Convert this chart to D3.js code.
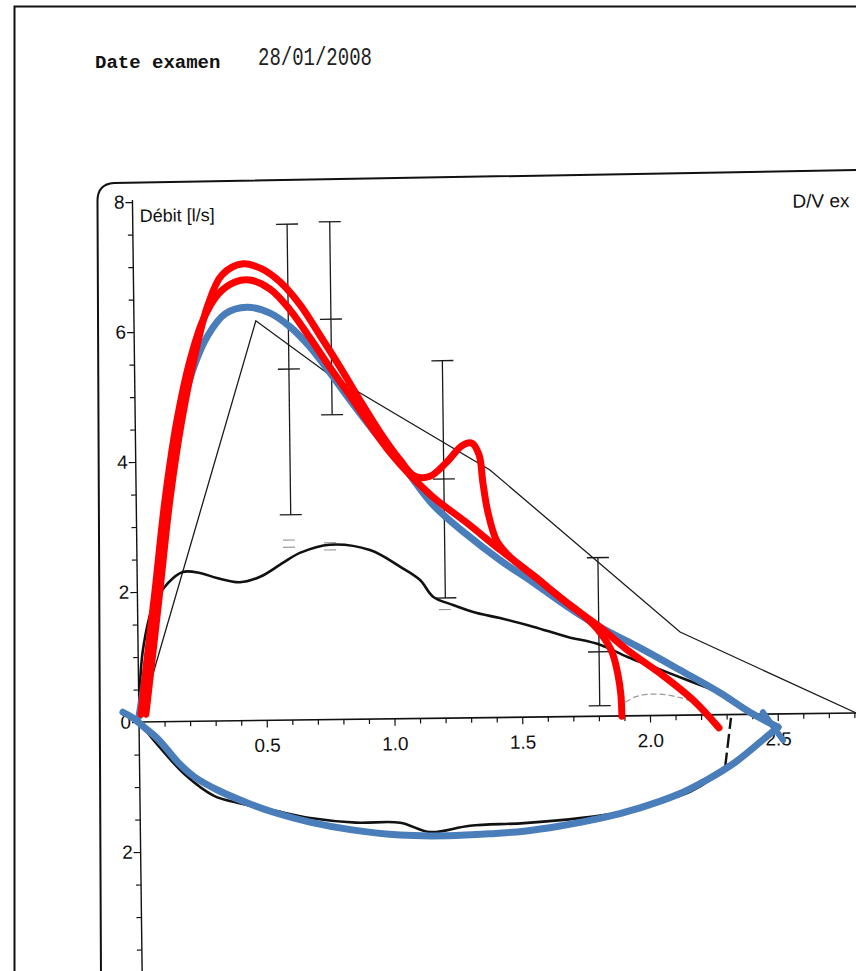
<!DOCTYPE html>
<html>
<head>
<meta charset="utf-8">
<script src="https://cdn.jsdelivr.net/npm/d3@7"></script>
<style>
  html, body { margin: 0; padding: 0; background: #fff; }
  svg { display: block; }
  .sans { font-family: "Liberation Sans Narrow", "Liberation Sans", Arial, sans-serif; font-stretch: condensed; fill: #111; }
  .tick text { font-family: "Liberation Sans Narrow", "Liberation Sans", Arial, sans-serif; font-stretch: condensed; fill: #111; }
</style>
</head>
<body>
<svg id="chart" width="856" height="971"></svg>
<script>
// ---------- flow-volume data: volume in litres, flow in l/s ----------
const xLabelValues = [0.5, 1.0, 1.5, 2.0, 2.5];
const yLabelValues = [8, 6, 4, 2, 0, -2];

// predicted expiratory curve (thin polyline)
const predictedVolume = [0, 0.477, 0.764, 1.386, 2.122, 2.807];
const predictedFlow   = [0, 6.15, 5.30, 3.81, 1.28, 0];

// reference ranges at the predicted parameters
const errVolume = [0.604, 0.771, 1.205, 1.804];
const errLow    = [3.16, 4.69, 1.85, 0.16];
const errMid    = [5.40, 6.16, 3.68, 0.99];
const errHigh   = [7.63, 7.66, 5.50, 2.44];

// measured expiratory curve
const measVolume = [0, 0.003, 0.019, 0.060, 0.120, 0.179, 0.246, 0.312, 0.402, 0.481, 0.571, 0.638,
                    0.756, 0.912, 1.029, 1.107, 1.157, 1.235, 1.328, 1.418, 1.547, 1.679, 1.808, 1.913,
                    2.014, 2.147, 2.248, 2.326, 2.380, 2.400];
const measFlow   = [0, 0.40, 1.11, 1.77, 2.13, 2.30, 2.28, 2.20, 2.13, 2.21, 2.42, 2.57,
                    2.69, 2.60, 2.34, 2.13, 1.87, 1.74, 1.61, 1.53, 1.39, 1.23, 1.10, 0.91,
                    0.75, 0.54, 0.38, 0.23, 0.07, 0];

// measured inspiratory curve
const inspVolume = [0, 0.081, 0.178, 0.290, 0.380, 0.516, 0.665, 0.844, 1.017, 1.134, 1.290, 1.502,
                    1.729, 1.878, 2.027, 2.153, 2.240, 2.292];
const inspFlow   = [0, -0.40, -0.82, -1.15, -1.26, -1.38, -1.51, -1.59, -1.60, -1.75, -1.66, -1.63,
                    -1.56, -1.48, -1.34, -1.18, -0.98, -0.80];
const inspEndVolume = [2.292, 2.317];
const inspEndFlow   = [-0.80, -0.05];

// faint trace of an earlier manoeuvre
const traceVolume = [1.875, 1.943, 2.029, 2.119, 2.196];
const traceFlow   = [0.13, 0.29, 0.33, 0.27, 0.16];

// small measured-value markers on the reference bars
const markVolume = [0.596, 0.596, 0.756, 0.756, 1.203];
const markFlow   = [2.77, 2.66, 2.72, 2.61, 1.67];

// red sketched curves
const red1Volume = [0.027, 0.051, 0.082, 0.121, 0.168, 0.219, 0.270, 0.325, 0.407, 0.481, 0.552, 0.630,
                    0.708, 0.787, 0.865, 0.943, 1.022, 1.080, 1.139, 1.205, 1.264, 1.303, 1.331, 1.346,
                    1.366, 1.401, 1.452, 1.550, 1.648, 1.746, 1.804, 1.851, 1.875, 1.886, 1.890];
const red1Flow   = [0.12, 0.95, 2.03, 3.42, 4.65, 5.65, 6.42, 6.88, 7.05, 6.97, 6.77, 6.42,
                    5.95, 5.46, 4.95, 4.46, 4.03, 3.78, 3.78, 4.00, 4.25, 4.29, 4.11, 3.68,
                    3.22, 2.78, 2.54, 2.23, 1.92, 1.62, 1.38, 1.08, 0.72, 0.42, 0.09];
const red2Volume = [0.008, 0.031, 0.063, 0.102, 0.149, 0.200, 0.250, 0.309, 0.376, 0.434, 0.513, 0.591,
                    0.669, 0.748, 0.826, 0.904, 0.982, 1.061, 1.151, 1.284, 1.413, 1.542, 1.675, 1.804,
                    1.910, 2.039, 2.168, 2.270];
const red2Flow   = [0.12, 0.95, 2.03, 3.42, 4.65, 5.57, 6.18, 6.58, 6.77, 6.80, 6.66, 6.34,
                    5.91, 5.45, 5.02, 4.57, 4.15, 3.80, 3.46, 3.06, 2.65, 2.26, 1.83, 1.46,
                    1.11, 0.75, 0.34, -0.09];

// blue sketched loop: expiratory limb, inspiratory limb, end stroke
const blueExpVolume = [0, 0.023, 0.043, 0.067, 0.090, 0.121, 0.160, 0.211, 0.270, 0.337, 0.423, 0.513,
                       0.591, 0.669, 0.748, 0.826, 0.924, 1.022, 1.151, 1.284, 1.413, 1.542, 1.675, 1.804,
                       1.961, 2.117, 2.274, 2.391, 2.501];
const blueExpFlow   = [0.09, 0.65, 1.26, 2.03, 2.80, 3.72, 4.65, 5.42, 5.95, 6.28, 6.38, 6.29,
                       6.08, 5.77, 5.37, 4.95, 4.45, 4.00, 3.34, 2.88, 2.49, 2.15, 1.78, 1.46,
                       1.14, 0.80, 0.45, 0.15, -0.08];
const blueInspVolume = [2.501, 2.431, 2.333, 2.227, 2.106, 1.961, 1.808, 1.648, 1.507, 1.374, 1.209, 1.022,
                        0.834, 0.669, 0.536, 0.415, 0.309, 0.219, 0.160, 0.074, 0.023, -0.023, -0.063];
const blueInspFlow   = [-0.08, -0.31, -0.62, -0.88, -1.12, -1.32, -1.48, -1.60, -1.68, -1.72, -1.75, -1.74,
                        -1.66, -1.54, -1.40, -1.23, -1.05, -0.85, -0.65, -0.26, -0.09, 0.06, 0.15];
const blueTickVolume = [2.442, 2.521];
const blueTickFlow   = [0.15, -0.28];

// ---------- layout ----------
const W = 856, H = 971;
const ox = 139, oy = 722, kx = 255.5, ky = 65;
const x = d3.scaleLinear().domain([0, 2.9]).range([ox, ox + 2.9 * kx]);
const y = d3.scaleLinear().domain([-4, 8]).range([oy + 4 * ky, oy - 8 * ky]);

const svg = d3.select("#chart");
svg.append("rect").attr("width", W).attr("height", H).attr("fill", "#fff");

// page border
svg.append("rect")
  .attr("x", 14.5).attr("y", 6.5).attr("width", 1000).attr("height", 1100)
  .attr("fill", "none").attr("stroke", "#111").attr("stroke-width", 2);

// header
svg.append("text")
  .attr("x", 95).attr("y", 68)
  .attr("font-family", "'Courier New', 'Liberation Mono', monospace")
  .attr("font-weight", "bold").attr("font-size", 19).attr("fill", "#111")
  .text("Date examen");
svg.append("text")
  .attr("transform", "translate(258,65) scale(0.76,1)")
  .attr("font-family", "'Liberation Mono', monospace")
  .attr("font-size", 25).attr("fill", "#222")
  .text("28/01/2008");

// printed chart frame with rounded corner
svg.append("path")
  .attr("d", "M101,980 L97.5,202 Q97,184 114,183 L860,170")
  .attr("fill", "none").attr("stroke", "#111").attr("stroke-width", 2);

// printed chart layer (slightly rotated like the printout)
const scan = svg.append("g").attr("transform", `rotate(-0.72,${ox},${oy})`);

const lineOf = (xs, ys, curve) =>
  d3.line().x((d, i) => x(xs[i])).y((d, i) => y(ys[i])).curve(curve)(xs);

// y axis
const yTicks = d3.range(-3.5, 8.01, 0.5);
const yAxis = d3.axisLeft(y)
  .tickValues(yTicks)
  .tickSizeInner(5).tickSizeOuter(0).tickPadding(4)
  .tickFormat(d => yLabelValues.includes(d) ? String(Math.abs(d)) : "");
const gy = scan.append("g").attr("transform", `translate(${ox},0)`).call(yAxis);
gy.select(".domain").attr("d", `M0,${y(8) - 2}V${H + 40}`).attr("stroke", "#111").attr("stroke-width", 1.4);
gy.selectAll(".tick line").attr("stroke", "#111").attr("stroke-width", 1.2)
  .attr("x2", d => yLabelValues.includes(d) ? -7 : -5);
gy.selectAll(".tick text").attr("font-size", 19).attr("x", -8);

// x axis
const xTicks = d3.range(1, 29).map(i => i / 10);
const xAxis = d3.axisBottom(x)
  .tickValues(xTicks)
  .tickSizeInner(5).tickSizeOuter(0).tickPadding(13)
  .tickFormat(d => xLabelValues.some(v => Math.abs(v - d) < 1e-9) ? d.toFixed(1) : "");
const gx = scan.append("g").attr("transform", `translate(0,${oy})`).call(xAxis);
gx.select(".domain").attr("d", `M${ox},0H${W + 60}`).attr("stroke", "#111").attr("stroke-width", 1.6);
gx.selectAll(".tick line").attr("stroke", "#111").attr("stroke-width", 1.2)
  .attr("y2", d => xLabelValues.some(v => Math.abs(v - d) < 1e-9) ? 7 : 5);
gx.selectAll(".tick text").attr("font-size", 19);

// axis titles
scan.append("text").attr("class", "sans").attr("x", 146).attr("y", 222).attr("font-size", 18).text("Débit [l/s]");
scan.append("text").attr("class", "sans").attr("x", 799).attr("y", 216).attr("font-size", 19).text("D/V ex");

// predicted curve
scan.append("path")
  .attr("d", lineOf(predictedVolume, predictedFlow, d3.curveLinear))
  .attr("fill", "none").attr("stroke", "#1a1a1a").attr("stroke-width", 1.3);

// reference bars
const capW = 11;
const bars = scan.append("g").attr("stroke", "#1a1a1a").attr("stroke-width", 1.3);
errVolume.forEach((v, i) => {
  const cx = x(v);
  bars.append("line").attr("x1", cx).attr("x2", cx).attr("y1", y(errHigh[i])).attr("y2", y(errLow[i]));
  [errHigh[i], errMid[i], errLow[i]].forEach(f => {
    bars.append("line").attr("x1", cx - capW).attr("x2", cx + capW).attr("y1", y(f)).attr("y2", y(f));
  });
});

// measured markers
const marks = scan.append("g").attr("stroke", "#9a9a9a").attr("stroke-width", 1.2);
markVolume.forEach((v, i) => {
  marks.append("line").attr("x1", x(v) - 6).attr("x2", x(v) + 6).attr("y1", y(markFlow[i])).attr("y2", y(markFlow[i]));
});

// faint earlier trace
scan.append("path")
  .attr("d", lineOf(traceVolume, traceFlow, d3.curveCatmullRom.alpha(0.5)))
  .attr("fill", "none").attr("stroke", "#9a9a9a").attr("stroke-width", 1.2).attr("stroke-dasharray", "6 3");

// measured curves
scan.append("path")
  .attr("d", lineOf(measVolume, measFlow, d3.curveCatmullRom.alpha(0.5)))
  .attr("fill", "none").attr("stroke", "#111").attr("stroke-width", 2.6).attr("stroke-linejoin", "round");
scan.append("path")
  .attr("d", lineOf(inspVolume, inspFlow, d3.curveCatmullRom.alpha(0.5)))
  .attr("fill", "none").attr("stroke", "#111").attr("stroke-width", 2.6).attr("stroke-linejoin", "round");
scan.append("path")
  .attr("d", lineOf(inspEndVolume, inspEndFlow, d3.curveLinear))
  .attr("fill", "none").attr("stroke", "#111").attr("stroke-width", 2.4).attr("stroke-dasharray", "14 5");

// ---------- sketched overlay ----------
const sketch = svg.append("g").attr("fill", "none").attr("stroke-linecap", "round").attr("stroke-linejoin", "round");
const blue = "#4a7ebb", red = "#ff0000";

sketch.append("path").attr("d", lineOf(blueExpVolume, blueExpFlow, d3.curveCatmullRom.alpha(0.5)))
  .attr("stroke", blue).attr("stroke-width", 7);
sketch.append("path").attr("d", lineOf(blueInspVolume, blueInspFlow, d3.curveCatmullRom.alpha(0.5)))
  .attr("stroke", blue).attr("stroke-width", 7);
sketch.append("path").attr("d", lineOf(blueTickVolume, blueTickFlow, d3.curveLinear))
  .attr("stroke", blue).attr("stroke-width", 6);

sketch.append("path").attr("d", lineOf(red2Volume, red2Flow, d3.curveCatmullRom.alpha(0.5)))
  .attr("stroke", red).attr("stroke-width", 7);
sketch.append("path").attr("d", lineOf(red1Volume, red1Flow, d3.curveCatmullRom.alpha(0.5)))
  .attr("stroke", red).attr("stroke-width", 7);
</script>
</body>
</html>
